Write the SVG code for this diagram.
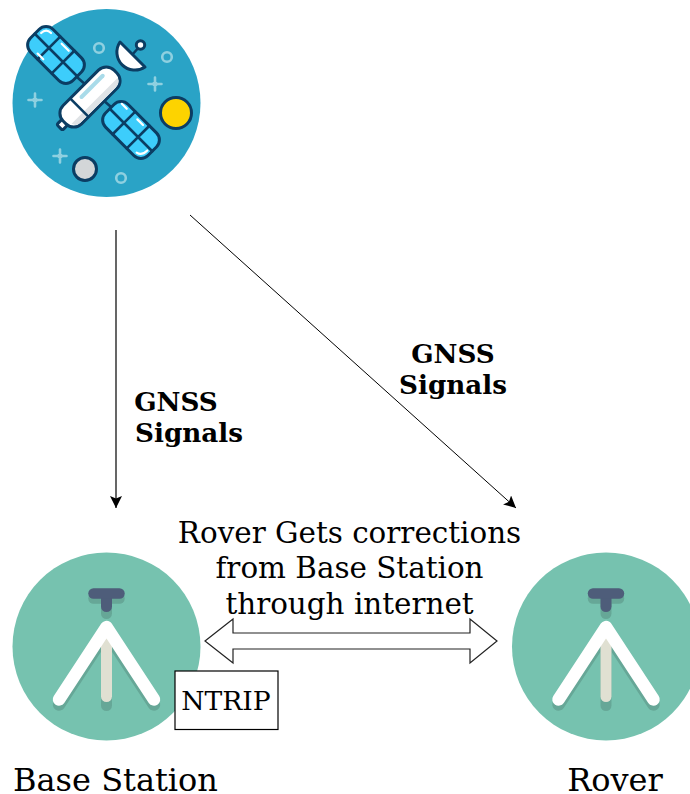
<svg xmlns="http://www.w3.org/2000/svg" width="690" height="794" viewBox="0 0 690 794">
<style>
text{font-family:"DejaVu Serif",serif;fill:#000}
.big{font-size:29.400px;text-anchor:middle}
.cap{font-size:32px;text-anchor:middle}
.b{font-size:26.200px;font-weight:bold;text-anchor:middle}
.conn{stroke:#000;stroke-width:1.200;fill:none}
.ln{stroke:#0b3d63;stroke-width:2.600;fill:none;stroke-linecap:round}
.pan{fill:#3dcdfb;stroke:#0b3d63;stroke-width:3}
.glint{stroke:#fff;stroke-width:2.200;fill:none;stroke-linecap:round}
.ring{fill:none;stroke:#8fd0e0;stroke-width:2.600}
.star{fill:#8fd0e0;stroke:#8fd0e0;stroke-width:2.600;stroke-linecap:round}
.dish{fill:#76c2af}
</style>
<defs>
<marker id="ah" markerWidth="13" markerHeight="12" refX="12" refY="6" orient="auto" markerUnits="userSpaceOnUse"><path d="M0 0L12 6L0 12L2.500 6Z" fill="#000"/></marker>
<path id="st" d="M0-6.500V6.500M-6.500 0H6.500M-2 0L0-2L2 0L0 2Z"/>
<g id="tri">
<circle cx="0" cy="0" r="94" class="dish"/>
<g fill="none" stroke="#66a797" stroke-linecap="round" stroke-linejoin="round" transform="translate(0 5)">
<path d="M-47.500 53L0-19.500L47.500 53" stroke-width="12.500"/>
<path d="M0-50V-38" stroke-width="11"/>
<path d="M-13-53H13" stroke-width="10.500"/>
<path d="M0 0V54" stroke-width="11"/>
</g>
<path d="M0-12V50" stroke="#e0e0d2" stroke-width="11" stroke-linecap="round"/>
<path d="M-47.500 53L0-19.500L47.500 53" stroke="#fff" stroke-width="12.500" stroke-linecap="round" stroke-linejoin="round" fill="none"/>
<path d="M0-50V-40" stroke="#4e5d7a" stroke-width="11" stroke-linecap="round"/>
<path d="M-13-53H13" stroke="#4e5d7a" stroke-width="10.500" stroke-linecap="round"/>
</g>
</defs>
<g id="satellite">
<circle cx="106.500" cy="103" r="94" fill="#2aa3c6"/>
<circle cx="99" cy="48" r="4.800" class="ring"/><circle cx="167" cy="57" r="4.800" class="ring"/><circle cx="121" cy="178" r="4.800" class="ring"/>
<use href="#st" x="35" y="100" class="star"/><use href="#st" x="155" y="84" class="star"/><use href="#st" x="60" y="156" class="star"/>
<circle cx="176" cy="113" r="15.500" fill="#fdd300" stroke="#0b3d63" stroke-width="3"/>
<circle cx="85" cy="169" r="11.500" fill="#d3d6d8" stroke="#0b3d63" stroke-width="3"/>
<path class="ln" d="M78 78L135 128"/>
<g transform="rotate(45 56 55)"><rect x="26" y="39" width="60" height="32" rx="10" class="pan"/><path class="ln" d="M26 55H86M46 39V71M66 39V71"/><path class="glint" d="M30 50Q30 43 37 43M62 43H52M50 67H42"/></g>
<g transform="rotate(45 131 130)"><rect x="101" y="114" width="60" height="32" rx="10" class="pan"/><path class="ln" d="M101 130H161M121 114V146M141 114V146"/><path class="glint" d="M157 133Q157 141 151 142M113 118H106M136 118H128"/></g>
<g transform="rotate(-45 90 97)">
<rect x="47" y="93" width="9" height="8" rx="2" fill="#fff" stroke="#0b3d63" stroke-width="3"/>
<rect x="54" y="84" width="72" height="26" rx="11" fill="#fff" stroke="#0b3d63" stroke-width="3"/>
<path d="M58 103H123Q121 108.500 115 108.500H65Q60 108.500 58 103Z" fill="#dfe3e6"/>
<path class="ln" d="M75 85V109" stroke-width="2.200"/>
<rect x="82" y="89" width="34" height="4" rx="2" fill="#a9dbe9"/>
</g>
<path class="ln" d="M132 55L140 46"/>
<path d="M120 42A18 18 0 0 0 145 67Z" fill="#fff" stroke="#0b3d63" stroke-width="3" stroke-linejoin="round"/>
<circle cx="140.500" cy="45" r="4.200" fill="#fff" stroke="#0b3d63" stroke-width="3"/>
</g>
<g id="connectors">
<path class="conn" d="M116 230V508" marker-end="url(#ah)"/>
<path class="conn" style="stroke-width:1" d="M190 215L516 508" marker-end="url(#ah)"/>
<path d="M205 641L233 619V633H470V619L497 641L470 663V649H233V663Z" fill="#fff" stroke="#222" stroke-width="1.200"/>
</g>
<g id="base-station"><use href="#tri" x="106.500" y="646.500"/><text x="115.500" y="791" class="cap">Base Station</text></g>
<g id="rover"><use href="#tri" x="606" y="646.500"/><text x="615" y="791" class="cap">Rover</text></g>
<g id="ntrip"><rect x="175" y="671" width="103" height="58.500" fill="#fff" stroke="#000" stroke-width="1.200"/><text x="226" y="710" font-size="26.600" text-anchor="middle">NTRIP</text></g>
<g id="labels">
<text class="b"><tspan x="176" y="411">GNSS</tspan></text>
<text class="b"><tspan x="189" y="442">Signals</tspan></text>
<text class="b"><tspan x="453" y="363">GNSS</tspan></text>
<text class="b"><tspan x="453" y="394">Signals</tspan></text>
<text class="big"><tspan x="349.500" y="543">Rover Gets corrections</tspan><tspan x="349.500" y="578">from Base Station</tspan><tspan x="349.500" y="614">through internet</tspan></text>
</g>
</svg>
